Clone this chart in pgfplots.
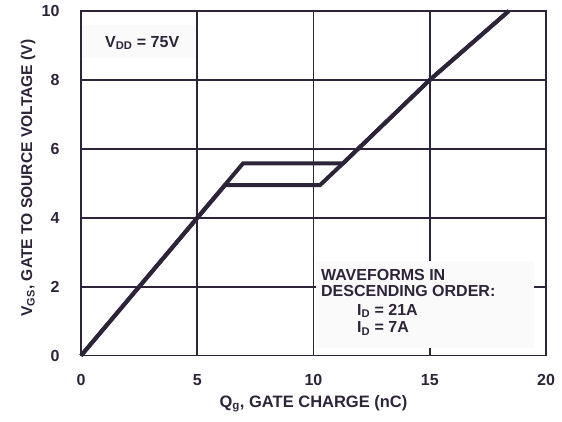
\documentclass[border=0pt]{standalone}
\usepackage{fontspec}
\setmainfont{Liberation Sans}
\usepackage{pgfplots}
\pgfplotsset{compat=1.18}
\definecolor{ink}{RGB}{46,36,58}
\definecolor{boxbg}{RGB}{250,250,250}
\begin{document}
\begin{tikzpicture}[font=\bfseries\fontsize{16}{18}\selectfont]
\useasboundingbox (-81pt,-66.3pt) rectangle (481pt,355.7pt);
\begin{axis}[
  scale only axis, width=465pt, height=344.7pt,
  xmin=0, xmax=20, ymin=0, ymax=10,
  xtick={0,5,10,15,20}, ytick={0,2,4,6,8,10},
  grid=major,
  major grid style={ink, line width=1.6pt},
  axis line style={ink, line width=1.6pt},
  major tick length=0pt,
  tick label style={text=ink, font=\bfseries\fontsize{16}{18}\selectfont},
  /pgf/number format/assume math mode=true,
  xticklabel style={yshift=-15pt},
  yticklabel style={xshift=-18pt},
  xlabel={Q\textsubscript{g}, GATE CHARGE (nC)},
  ylabel={V\textsubscript{GS}, GATE TO SOURCE VOLTAGE (V)},
  xlabel style={at={(axis description cs:0.5,-0.1392)}, anchor=center, text=ink, font=\bfseries\fontsize{16.5}{18}\selectfont},
  ylabel style={at={(axis description cs:-0.114,0.5155)}, anchor=center, text=ink, font=\bfseries\fontsize{15.6}{18}\selectfont},
  clip=false,
]
\fill[boxbg] (axis cs:0.05,9.59) rectangle (axis cs:4.9,8.64);
\fill[boxbg] (axis cs:10.1,2.75) rectangle (axis cs:19.48,0.22);
\node[anchor=west, text=ink, inner sep=0pt] at (axis cs:1.03,9.07) {V\textsubscript{DD} = 75V};
\node[anchor=base west, text=ink, inner sep=0pt] at (axis cs:10.32,2.196) {WAVEFORMS IN};
\node[anchor=base west, text=ink, inner sep=0pt] at (axis cs:10.32,1.703) {DESCENDING ORDER:};
\node[anchor=base west, text=ink, inner sep=0pt] at (axis cs:11.87,1.18) {I\textsubscript{D} = 21A};
\node[anchor=base west, text=ink, inner sep=0pt] at (axis cs:11.87,0.667) {I\textsubscript{D} = 7A};
\addplot[ink, line width=4pt, line join=miter] coordinates {(0,0) (6.97,5.58) (11.27,5.58) (15,8) (18.4,10)};
\addplot[ink, line width=4pt, line join=miter] coordinates {(0,0) (6.2,4.95) (10.28,4.95) (11.27,5.58) (15,8) (18.4,10)};
\end{axis}
\end{tikzpicture}
\end{document}
